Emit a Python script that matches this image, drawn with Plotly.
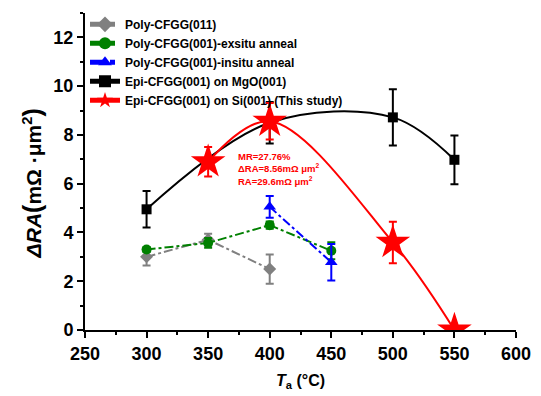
import plotly.graph_objects as go

# ---- data ----
poly011_x = [300, 350, 400]
poly011_y = [3.0, 3.7, 2.5]
poly011_err = [0.35, 0.25, 0.6]

exsitu_x = [300, 350, 400, 450]
exsitu_y = [3.3, 3.57, 4.3, 3.25]
exsitu_err = [0.1, 0.2, 0.15, 0.35]

insitu_x = [400, 450]
insitu_y = [5.05, 2.78]
insitu_err = [0.45, 0.75]

mgo_x = [300, 400, 500, 550]
mgo_y = [4.95, 8.5, 8.72, 6.98]
mgo_err = [0.75, 0.85, 1.15, 1.0]

si_x = [350, 400, 500, 550]
si_y = [6.9, 8.56, 3.59, 0.0]
si_err = [0.6, 0.75, 0.85, 0.0]

names = ["Poly-CFGG(011)", "Poly-CFGG(001)-exsitu anneal", "Poly-CFGG(001)-insitu anneal",
         "Epi-CFGG(001) on MgO(001)", "Epi-CFGG(001) on Si(001) (This study)"]

FONT = "Liberation Sans, Arial, sans-serif"

fig = go.Figure()

def add(x, y, err, name, color, symbol, size, dash, shape="linear"):
    fig.add_trace(go.Scatter(
        x=x, y=y, name=name, mode="lines+markers",
        line=dict(color=color, width=2, dash=dash, shape=shape),
        marker=dict(color=color, symbol=symbol, size=size),
        error_y=dict(type="data", array=err, visible=True, color=color, thickness=2, width=4),
    ))

add(poly011_x, poly011_y, poly011_err, names[0], "#808080", "diamond", 10, "dashdot")
add(exsitu_x, exsitu_y, exsitu_err, names[1], "#008000", "circle", 10, "dashdot")
add(insitu_x, insitu_y, insitu_err, names[2], "#0000FF", "triangle-up", 11, "dashdot")
add(mgo_x, mgo_y, mgo_err, names[3], "#000000", "square", 10, "solid", "spline")
add(si_x, si_y, si_err, names[4], "#FF0000", "star", 26, "solid", "spline")

axis_common = dict(showgrid=False, zeroline=False, linecolor="black", linewidth=2,
                   tickcolor="black", tickwidth=2, ticklen=6, showline=True)

fig.update_layout(
    width=541, height=396,
    margin=dict(l=85, r=19, t=10, b=66),
    paper_bgcolor="white", plot_bgcolor="white",
    font=dict(family=FONT, color="black"),
    xaxis=dict(range=[250, 600], dtick=50, tick0=250, ticks="outside",
               tickfont=dict(size=18, family=FONT, weight="bold"),
               minor=dict(ticks="outside", dtick=25, ticklen=3, tickwidth=1.5, tickcolor="black"),
               **axis_common),
    yaxis=dict(range=[0, 13], dtick=2, tick0=0, ticks="outside",
               tickfont=dict(size=18, family=FONT, weight="bold"),
               minor=dict(ticks="outside", dtick=1, ticklen=3, tickwidth=1.5, tickcolor="black"),
               **axis_common),
    xaxis2=dict(range=[250, 600], dtick=50, tick0=250, ticks="inside", overlaying="x", side="top",
                anchor="y", showticklabels=False,
                minor=dict(ticks="inside", dtick=25, ticklen=3, tickwidth=1.5, tickcolor="black"),
                **axis_common),
    yaxis2=dict(range=[0, 13], dtick=2, tick0=0, ticks="inside", overlaying="y", side="right",
                anchor="x", showticklabels=False,
                minor=dict(ticks="inside", dtick=1, ticklen=3, tickwidth=1.5, tickcolor="black"),
                **axis_common),
    legend=dict(x=0.0, y=1.01, xanchor="left", yanchor="top", bgcolor="rgba(0,0,0,0)",
                font=dict(size=12, family=FONT, weight="bold"), itemsizing="constant",
                tracegroupgap=0),
    showlegend=True,
)

# axis titles
fig.add_annotation(
    text="<i>ΔRA</i><span style='font-size:25px'>(</span>mΩ ·μm<sup>2</sup><span style='font-size:25px'>)</span>",
    xref="paper", yref="paper", x=0, y=0.4625, xshift=-53, textangle=-90,
    showarrow=False, xanchor="center", yanchor="middle",
    font=dict(size=21, family=FONT, weight="bold"))
fig.add_annotation(
    text="<i>T</i><sub>a</sub> (°C)",
    xref="paper", yref="paper", x=0.5, y=0, yshift=-51, showarrow=False,
    xanchor="center", yanchor="middle", font=dict(size=16, family=FONT, weight="bold"))

fig.add_annotation(
    text="MR=27.76%<br>ΔRA=8.56mΩ μm<sup>2</sup><br>RA=29.6mΩ μm<sup>2</sup>",
    xref="x", yref="y", x=372.5, y=6.59, xanchor="left", yanchor="middle", align="left",
    showarrow=False, font=dict(size=9.5, family=FONT, color="#FF0000", weight="bold"))

fig.write_html("out.html", config={"displayModeBar": False},
               post_script="document.body.style.margin='0';")
